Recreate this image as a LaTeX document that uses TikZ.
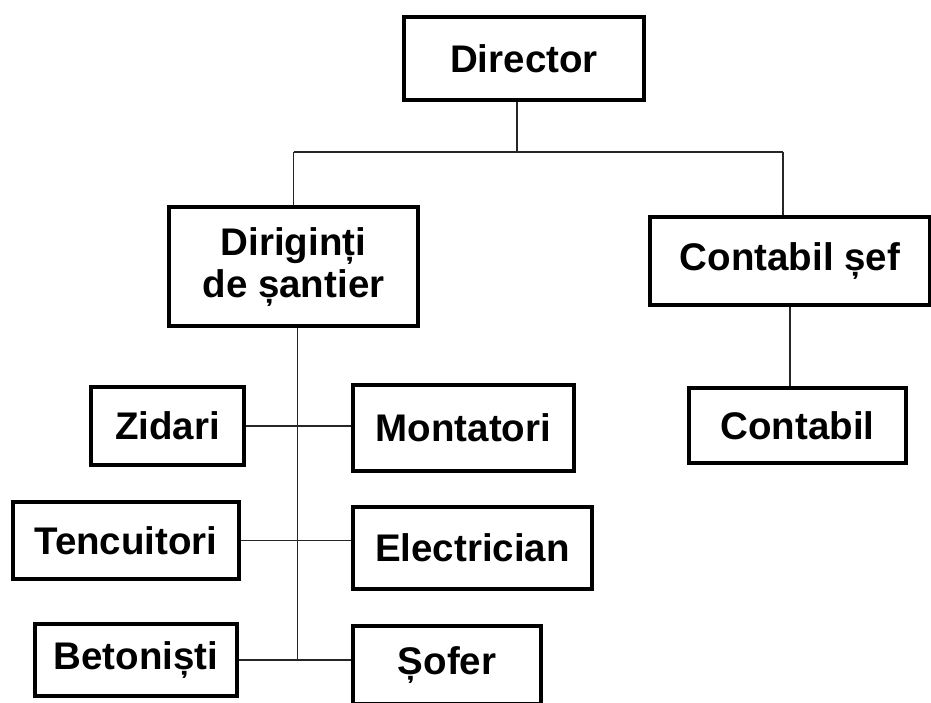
\documentclass[tikz,border=0pt]{standalone}
\usepackage{fontspec}
\setmainfont{Liberation Sans}
\usepackage{tikz}
\usetikzlibrary{positioning}

\begin{document}
\begin{tikzpicture}[
  x=1pt, y=-1pt,
  box/.style={rectangle, draw=black, line width=4.5pt, fill=white, inner sep=0pt,
              align=center, font=\fontsize{38.5}{42}\selectfont\bfseries},
  link/.style={line width=1.5pt, black!85},
]
\fill[white] (0,0) rectangle (931,702);
\useasboundingbox (0,0) rectangle (931,702);

%% Top
\node[box, minimum width=240pt, minimum height=83pt] (dir) at (524,58.5) {Director};

%% Tier 1
\node[box, minimum width=249pt, minimum height=119pt] (dirig) at (293.5,266.5) {Diriginți\\de șantier};
\node[box, minimum width=280pt, minimum height=88pt] (sef) at (790,261) {Contabil șef};
\node[box, minimum width=217pt, minimum height=75pt] (cont) at (797.5,425.5) {Contabil};

%% Tier 2 -- left column
\node[box, minimum width=153pt, minimum height=78pt] (zid)  at (167.5,426) {Zidari};
\node[box, minimum width=226pt, minimum height=77pt] (tenc) at (126,540.5) {Tencuitori};
\node[box, minimum width=202pt, minimum height=72pt] (bet)  at (136,660) {Betoniști};

%% Tier 2 -- right column
\node[box, minimum width=221pt, minimum height=86pt] (mont)  at (463.5,428) {Montatori};
\node[box, minimum width=239pt, minimum height=82pt] (elec)  at (472.5,548) {Electrician};
\node[box, minimum width=188pt, minimum height=78pt] (sofer) at (447,665) {Șofer};

%% Director bus
\coordinate (bus) at (517,152);
\draw[link] (dir.south -| bus) -- (bus);
\draw[link] (dirig.north |- bus) -- ([xshift=-7pt]sef.north |- bus);
\draw[link] (dirig.north |- bus) -- (dirig.north);
\draw[link] ([xshift=-7pt]sef.north |- bus) -- ([xshift=-7pt]sef.north);
\draw[link] (sef.south) -- (sef.south |- cont.north);

%% Site spine
\coordinate (spine) at (297.5,661);
\draw[link] ([xshift=4pt]dirig.south) -- (spine);
\draw[link] (zid.east)  -- (zid.east -| mont.west);
\draw[link] (tenc.east) -- (tenc.east -| elec.west);
\draw[link] (bet.east)  -- (bet.east -| sofer.west);

\end{tikzpicture}
\end{document}
